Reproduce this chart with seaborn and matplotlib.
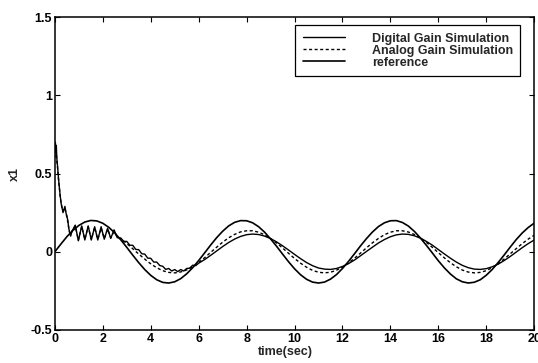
"""Digital vs analog gain simulation of x1, tracking a sinusoidal reference."""
import matplotlib
matplotlib.use('Agg')
import matplotlib.pyplot as plt
import numpy as np
import seaborn as sns

# reference signal, sampled every 0.25 s
t_ref = np.arange(0, 20.01, 0.25)
x_ref = [
    0.000, 0.049, 0.096, 0.136, 0.168, 0.190, 0.200, 0.197, 0.182, 0.156,
    0.120, 0.076, 0.028, -0.022, -0.070, -0.114, -0.151, -0.179, -0.196, -0.200,
    -0.192, -0.172, -0.141, -0.102, -0.056, -0.007, 0.043, 0.090, 0.131, 0.165,
    0.188, 0.199, 0.198, 0.185, 0.160, 0.125, 0.082, 0.035, -0.015, -0.064,
    -0.109, -0.147, -0.176, -0.194, -0.200, -0.194, -0.175, -0.146, -0.107, -0.062,
    -0.013, 0.037, 0.084, 0.126, 0.161, 0.185, 0.198, 0.199, 0.187, 0.164,
    0.130, 0.088, 0.041, -0.008, -0.058, -0.103, -0.142, -0.173, -0.192, -0.200,
    -0.195, -0.179, -0.150, -0.113, -0.068, -0.020, 0.030, 0.078, 0.120, 0.155,
    0.183,
]

# simulation time base: dense over the start-up transient, coarser afterwards
t_start = [
    0.0, 0.02, 0.04, 0.06, 0.08, 0.11, 0.14, 0.18, 0.22, 0.26, 0.30, 0.34,
    0.38, 0.42, 0.46, 0.50, 0.54, 0.58, 0.62, 0.66, 0.71, 0.85, 0.98, 1.12,
    1.25, 1.39, 1.52, 1.66, 1.79, 1.93, 2.06, 2.20, 2.33, 2.47, 2.60,
]
t_sim = np.concatenate([t_start, np.arange(2.75, 5.9, 0.125), np.arange(6.0, 20.01, 0.25)])

x_digital = [
    # start-up transient
    0.62, 0.70, 0.64, 0.68, 0.60, 0.55, 0.49, 0.42, 0.36, 0.31, 0.28, 0.25,
    0.27, 0.29, 0.25, 0.23, 0.20, 0.15, 0.12, 0.10, 0.13, 0.17, 0.07, 0.165,
    0.075, 0.165, 0.075, 0.16, 0.075, 0.16, 0.08, 0.15, 0.085, 0.14, 0.09,
    # ripple while settling
    0.088, 0.066, 0.066, 0.042, 0.041, 0.015, 0.013, -0.013, -0.015, -0.041,
    -0.042, -0.066, -0.066, -0.088, -0.093, -0.113, -0.107, -0.123, -0.114, -0.127,
    -0.114, -0.123, -0.107, -0.105, -0.086, -0.089,
    # steady state
    -0.073, -0.050, -0.023, 0.005, 0.033, 0.059, 0.081, 0.098, 0.109, 0.113,
    0.110, 0.100, 0.084, 0.063, 0.038, 0.011, -0.017, -0.044, -0.069, -0.089,
    -0.104, -0.111, -0.113, -0.107, -0.094, -0.076, -0.053, -0.026, 0.002, 0.029,
    0.056, 0.078, 0.096, 0.108, 0.113, 0.111, 0.102, 0.087, 0.066, 0.042,
    0.014, -0.014, -0.041, -0.066, -0.087, -0.102, -0.111, -0.113, -0.108, -0.096,
    -0.079, -0.056, -0.030, -0.002, 0.026, 0.052, 0.075,
]

x_analog = [
    0.60, 0.66, 0.66, 0.64, 0.58, 0.54, 0.48, 0.42, 0.36, 0.31, 0.28, 0.26,
    0.27, 0.28, 0.25, 0.22, 0.19, 0.15, 0.12, 0.11, 0.13, 0.165, 0.075, 0.16,
    0.08, 0.16, 0.08, 0.155, 0.08, 0.15, 0.085, 0.145, 0.09, 0.13, 0.095,
    0.081, 0.067, 0.052, 0.036, 0.019, 0.002, -0.015, -0.031, -0.047, -0.063,
    -0.077, -0.090, -0.102, -0.112, -0.121, -0.127, -0.132, -0.134, -0.135, -0.133,
    -0.129, -0.124, -0.116, -0.107, -0.095, -0.083,
    -0.069, -0.038, -0.004, 0.029, 0.061, 0.089, 0.111, 0.127, 0.134, 0.134,
    0.125, 0.108, 0.084, 0.056, 0.024, -0.010, -0.043, -0.073, -0.099, -0.119,
    -0.131, -0.135, -0.131, -0.118, -0.098, -0.072, -0.042, -0.009, 0.025, 0.057,
    0.085, 0.109, 0.125, 0.134, 0.134, 0.126, 0.110, 0.088, 0.060, 0.028,
    -0.006, -0.039, -0.070, -0.096, -0.117, -0.130, -0.135, -0.132, -0.121, -0.101,
    -0.076, -0.046, -0.013, 0.020, 0.052, 0.081, 0.105,
]

x_ticks = list(range(0, 21, 2))
y_ticks = [-0.5, 0, 0.5, 1, 1.5]
y_tick_labels = ['-0.5', '0', '0.5', '1', '1.5']

sns.set_style('ticks')
plt.rcParams['font.family'] = ['Liberation Sans', 'DejaVu Sans']
plt.rcParams['font.weight'] = 'bold'
plt.rcParams['axes.labelweight'] = 'bold'
plt.rcParams['xtick.direction'] = 'in'
plt.rcParams['ytick.direction'] = 'in'

fig = plt.figure(figsize=(5.38, 3.63), dpi=100)
ax = fig.add_axes([0.102, 0.091, 0.891, 0.862])

line_kw = dict(ax=ax, color='black', estimator=None, sort=False)
sns.lineplot(x=t_sim, y=x_digital, lw=1.0, label='Digital Gain Simulation', **line_kw)
sns.lineplot(x=t_sim, y=x_analog, lw=1.0, linestyle=(0, (2.2, 1.8)),
             label='Analog Gain Simulation', **line_kw)
sns.lineplot(x=t_ref, y=x_ref, lw=1.2, label='reference', **line_kw)

ax.set_xlim(0, 20)
ax.set_ylim(-0.5, 1.5)
ax.set_xticks(x_ticks)
ax.set_yticks(y_ticks)
ax.set_yticklabels(y_tick_labels)
ax.tick_params(which='both', top=True, right=True, length=3.5, width=0.8,
               labelsize=9, colors='black', pad=2)
for side in ax.spines.values():
    side.set_color('black')
    side.set_linewidth(1.1)

ax.set_xlabel('time(sec)', fontsize=9)
ax.xaxis.set_label_coords(0.48, -0.05)
ax.set_ylabel('x1', fontsize=9, labelpad=7)

leg = ax.legend(loc='upper right', bbox_to_anchor=(0.971, 0.974), borderaxespad=0,
                prop={'size': 9, 'weight': 'bold'}, frameon=True, fancybox=False,
                shadow=False, handlelength=3.4, handletextpad=2.1,
                labelspacing=0.0, borderpad=0.6)
leg.get_frame().set_edgecolor('black')
leg.get_frame().set_linewidth(0.9)
leg.get_frame().set_alpha(1)

fig.savefig('out.png', dpi=100)
